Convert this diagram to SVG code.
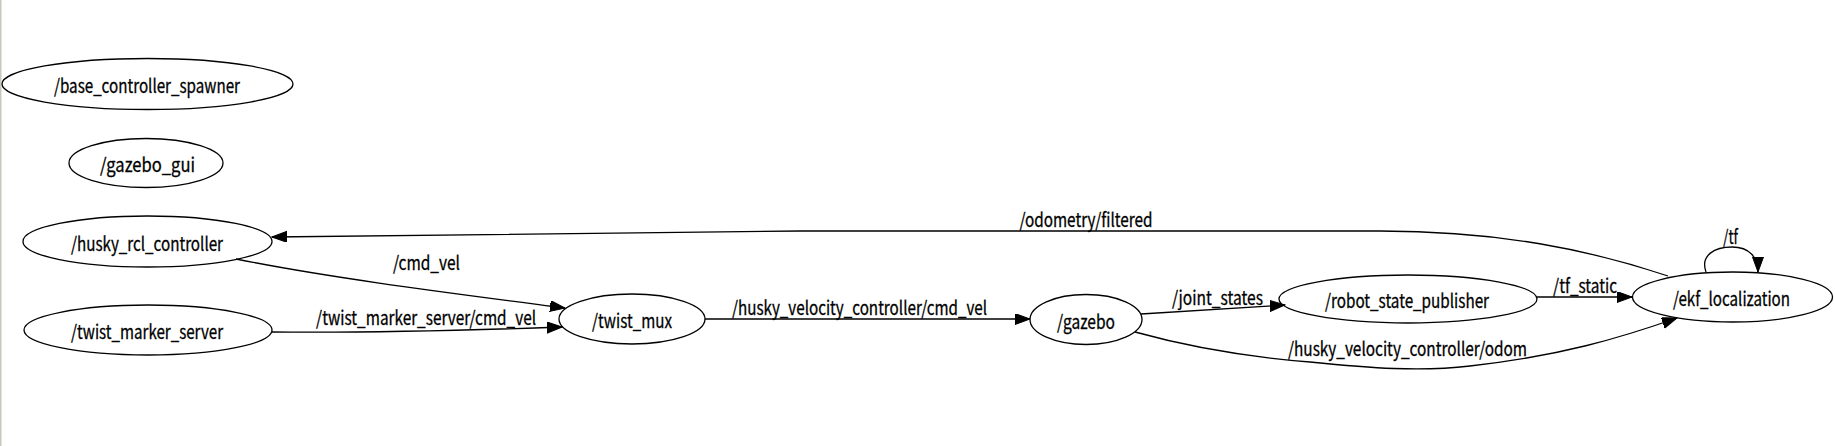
<svg xmlns="http://www.w3.org/2000/svg" width="1835" height="446" viewBox="0 0 1835 446">
<defs>
<style>
.n ellipse{fill:none;stroke:#000;stroke-width:1.3}
text{font-family:"Noto Sans CJK JP","Source Sans Pro","Noto Sans",sans-serif;font-size:19px;fill:#000;stroke:#000;stroke-width:0.3;text-anchor:middle}
.e path{fill:none;stroke:#000;stroke-width:1.3}
</style>
<marker id="ah" markerUnits="userSpaceOnUse" markerWidth="16" markerHeight="12" refX="15" refY="5.5" orient="auto" viewBox="0 0 16 12">
<path d="M0,0 L15,5.5 L0,11 z" fill="#000" stroke="#000" stroke-width="1"/>
</marker>
</defs>
<rect x="0" y="0" width="1835" height="446" fill="#fff"/>
<rect x="0" y="0" width="1.5" height="446" fill="#cbc7bf"/>
<g id="base_controller_spawner" class="n"><ellipse cx="147.5" cy="84" rx="145.5" ry="25.5"/><text x="147" y="93" textLength="186" lengthAdjust="spacingAndGlyphs">/base_controller_spawner</text></g>
<g id="gazebo_gui" class="n"><ellipse cx="146" cy="163" rx="77" ry="24.5"/><text x="147.5" y="172" textLength="95" lengthAdjust="spacingAndGlyphs">/gazebo_gui</text></g>
<g id="husky_rcl_controller" class="n"><ellipse cx="147.5" cy="241.5" rx="124.5" ry="25.5"/><text x="147" y="250.5" textLength="152" lengthAdjust="spacingAndGlyphs">/husky_rcl_controller</text></g>
<g id="twist_marker_server" class="n"><ellipse cx="148" cy="330" rx="124" ry="25"/><text x="147" y="339" textLength="152" lengthAdjust="spacingAndGlyphs">/twist_marker_server</text></g>
<g id="twist_mux" class="n"><ellipse cx="632" cy="319" rx="73" ry="25"/><text x="632" y="328" textLength="80" lengthAdjust="spacingAndGlyphs">/twist_mux</text></g>
<g id="gazebo" class="n"><ellipse cx="1086" cy="319.5" rx="56" ry="25"/><text x="1086" y="328.5" textLength="58" lengthAdjust="spacingAndGlyphs">/gazebo</text></g>
<g id="robot_state_publisher" class="n"><ellipse cx="1408" cy="299" rx="129" ry="24"/><text x="1407" y="308" textLength="164" lengthAdjust="spacingAndGlyphs">/robot_state_publisher</text></g>
<g id="ekf_localization" class="n"><ellipse cx="1732.5" cy="297" rx="100" ry="25"/><text x="1731.5" y="306" textLength="117" lengthAdjust="spacingAndGlyphs">/ekf_localization</text></g>
<g id="edges" class="e">
<path marker-end="url(#ah)" d="M1668,276 C1590,250 1500,231 1380,231 L800,231 L272,237"/>
<text x="1086" y="227" textLength="133" lengthAdjust="spacingAndGlyphs">/odometry/filtered</text>
<path marker-end="url(#ah)" d="M236,259 C330,278 450,293 565,308"/>
<text x="426.5" y="270" textLength="67" lengthAdjust="spacingAndGlyphs">/cmd_vel</text>
<path marker-end="url(#ah)" d="M272,332 C360,333 450,331 562,327"/>
<text x="426" y="325" textLength="220" lengthAdjust="spacingAndGlyphs">/twist_marker_server/cmd_vel</text>
<path marker-end="url(#ah)" d="M705,319 L1030,319"/>
<text x="859.5" y="315" textLength="255" lengthAdjust="spacingAndGlyphs">/husky_velocity_controller/cmd_vel</text>
<path marker-end="url(#ah)" d="M1141,314 L1285,305"/>
<text x="1217.5" y="305" textLength="91" lengthAdjust="spacingAndGlyphs">/joint_states</text>
<path marker-end="url(#ah)" d="M1135,332 C1200,350 1260,358 1310,362 C1370,368 1420,372 1470,366 C1560,356 1620,338 1677,318"/>
<text x="1407.5" y="356" textLength="239" lengthAdjust="spacingAndGlyphs">/husky_velocity_controller/odom</text>
<path marker-end="url(#ah)" d="M1537,297 L1632,297"/>
<text x="1585" y="293" textLength="64" lengthAdjust="spacingAndGlyphs">/tf_static</text>
<path marker-end="url(#ah)" d="M1706,272 C1700,255 1715,247 1732,247 C1750,247 1758,258 1758,272"/>
<text x="1730.5" y="244" textLength="15" lengthAdjust="spacingAndGlyphs">/tf</text>
</g>
</svg>
